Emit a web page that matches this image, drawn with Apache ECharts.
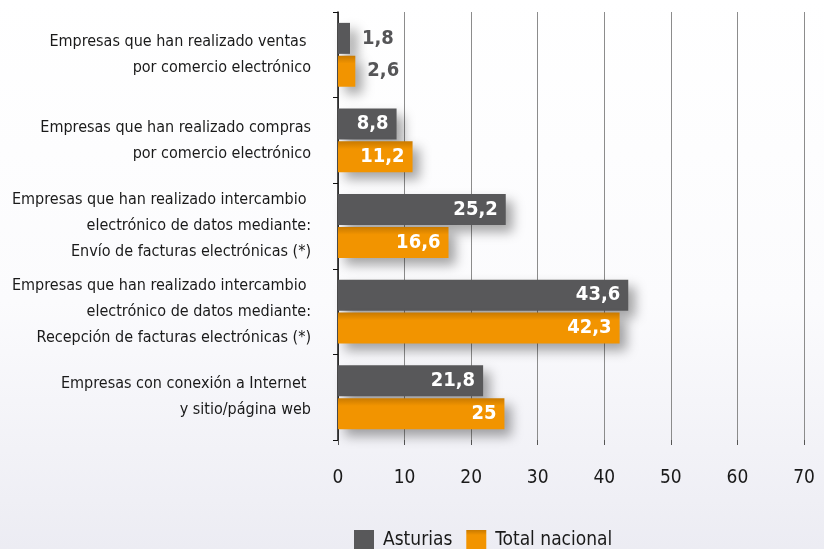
<!DOCTYPE html>
<html>
<head>
<meta charset="utf-8">
<script src="https://cdn.jsdelivr.net/npm/echarts@6/dist/echarts.min.js"></script>
<style>
html,body{margin:0;padding:0;}
#chart{width:824px;height:549px;background:linear-gradient(180deg,#ffffff 0%,#fbfbfd 55%,#ececf3 100%);}
</style>
</head>
<body>
<div id="chart"></div>
<script>
var categories = [
    'Empresas que han realizado ventas \npor comercio electrónico',
    'Empresas que han realizado compras\npor comercio electrónico',
    'Empresas que han realizado intercambio \nelectrónico de datos mediante:\nEnvío de facturas electrónicas (*)',
    'Empresas que han realizado intercambio \nelectrónico de datos mediante:\nRecepción de facturas electrónicas (*)',
    'Empresas con conexión a Internet \ny sitio/página web'
];
var asturias = [1.8, 8.8, 25.2, 43.6, 21.8];
var nacional = [2.6, 11.2, 16.6, 42.3, 25];
var xTicks = [0, 10, 20, 30, 40, 50, 60, 70];

var font = '"DejaVu Sans Condensed","Liberation Sans Narrow",sans-serif';

// small values go outside the bar in grey, the rest inside in white
function toData(values){
    return values.map(function(v){
        var small = v < 5;
        return {
            value: v,
            label: {
                position: small ? 'right' : 'insideRight',
                color: small ? '#555557' : '#ffffff',
                distance: small ? 12 : 8
            }
        };
    });
}

var myChart = echarts.init(document.getElementById('chart'));
var option = {
    textStyle: {fontFamily: font},
    legend: {
        bottom: -6,
        left: 349,
        itemWidth: 20,
        itemHeight: 20,
        itemGap: 14,
        icon: 'rect',
        textStyle: {fontSize: 19, color: '#1a1a1a', fontFamily: font, padding: [0, 0, 0, 4]},
        data: ['Asturias', 'Total nacional']
    },
    grid: {left: 338, right: 20, top: 12, bottom: 109, outerBoundsMode: 'none', containLabel: false},
    xAxis: {
        type: 'value',
        min: xTicks[0],
        max: xTicks[xTicks.length - 1],
        interval: 10,
        axisLine: {show: false},
        axisTick: {show: true, length: 5, lineStyle: {color: '#555'}},
        axisLabel: {fontSize: 19, color: '#1a1a1a', margin: 29, fontFamily: font},
        splitLine: {show: true, lineStyle: {color: '#8c8c8c', width: 1}}
    },
    yAxis: {
        type: 'category',
        inverse: true,
        data: categories,
        axisLine: {show: true, lineStyle: {color: '#111', width: 1.5}},
        axisTick: {show: true, length: 5, inside: false, lineStyle: {color: '#111'}},
        axisLabel: {fontSize: 16, color: '#1a1a1a', margin: 27, lineHeight: 26, align: 'right', fontFamily: font}
    },
    series: [{
        name: 'Asturias',
        type: 'bar',
        barWidth: 31,
        barGap: '6%',
        data: toData(asturias),
        itemStyle: {
            color: '#58585a',
            shadowColor: 'rgba(0,0,0,0.35)',
            shadowBlur: 12,
            shadowOffsetX: 7,
            shadowOffsetY: 7
        },
        label: {show: true, fontSize: 20, fontWeight: 'bold', fontFamily: font,
            formatter: function(p){ return String(p.value).replace('.', ','); }}
    }, {
        name: 'Total nacional',
        type: 'bar',
        barWidth: 31,
        data: toData(nacional),
        itemStyle: {
            color: new echarts.graphic.LinearGradient(0, 0, 0, 1, [
                {offset: 0, color: '#c97a00'},
                {offset: 0.25, color: '#f29400'},
                {offset: 1, color: '#f29400'}
            ]),
            shadowColor: 'rgba(0,0,0,0.35)',
            shadowBlur: 12,
            shadowOffsetX: 7,
            shadowOffsetY: 7
        },
        label: {show: true, fontSize: 20, fontWeight: 'bold', fontFamily: font,
            formatter: function(p){ return String(p.value).replace('.', ','); }}
    }]
};
myChart.setOption(option);
</script>
</body>
</html>
